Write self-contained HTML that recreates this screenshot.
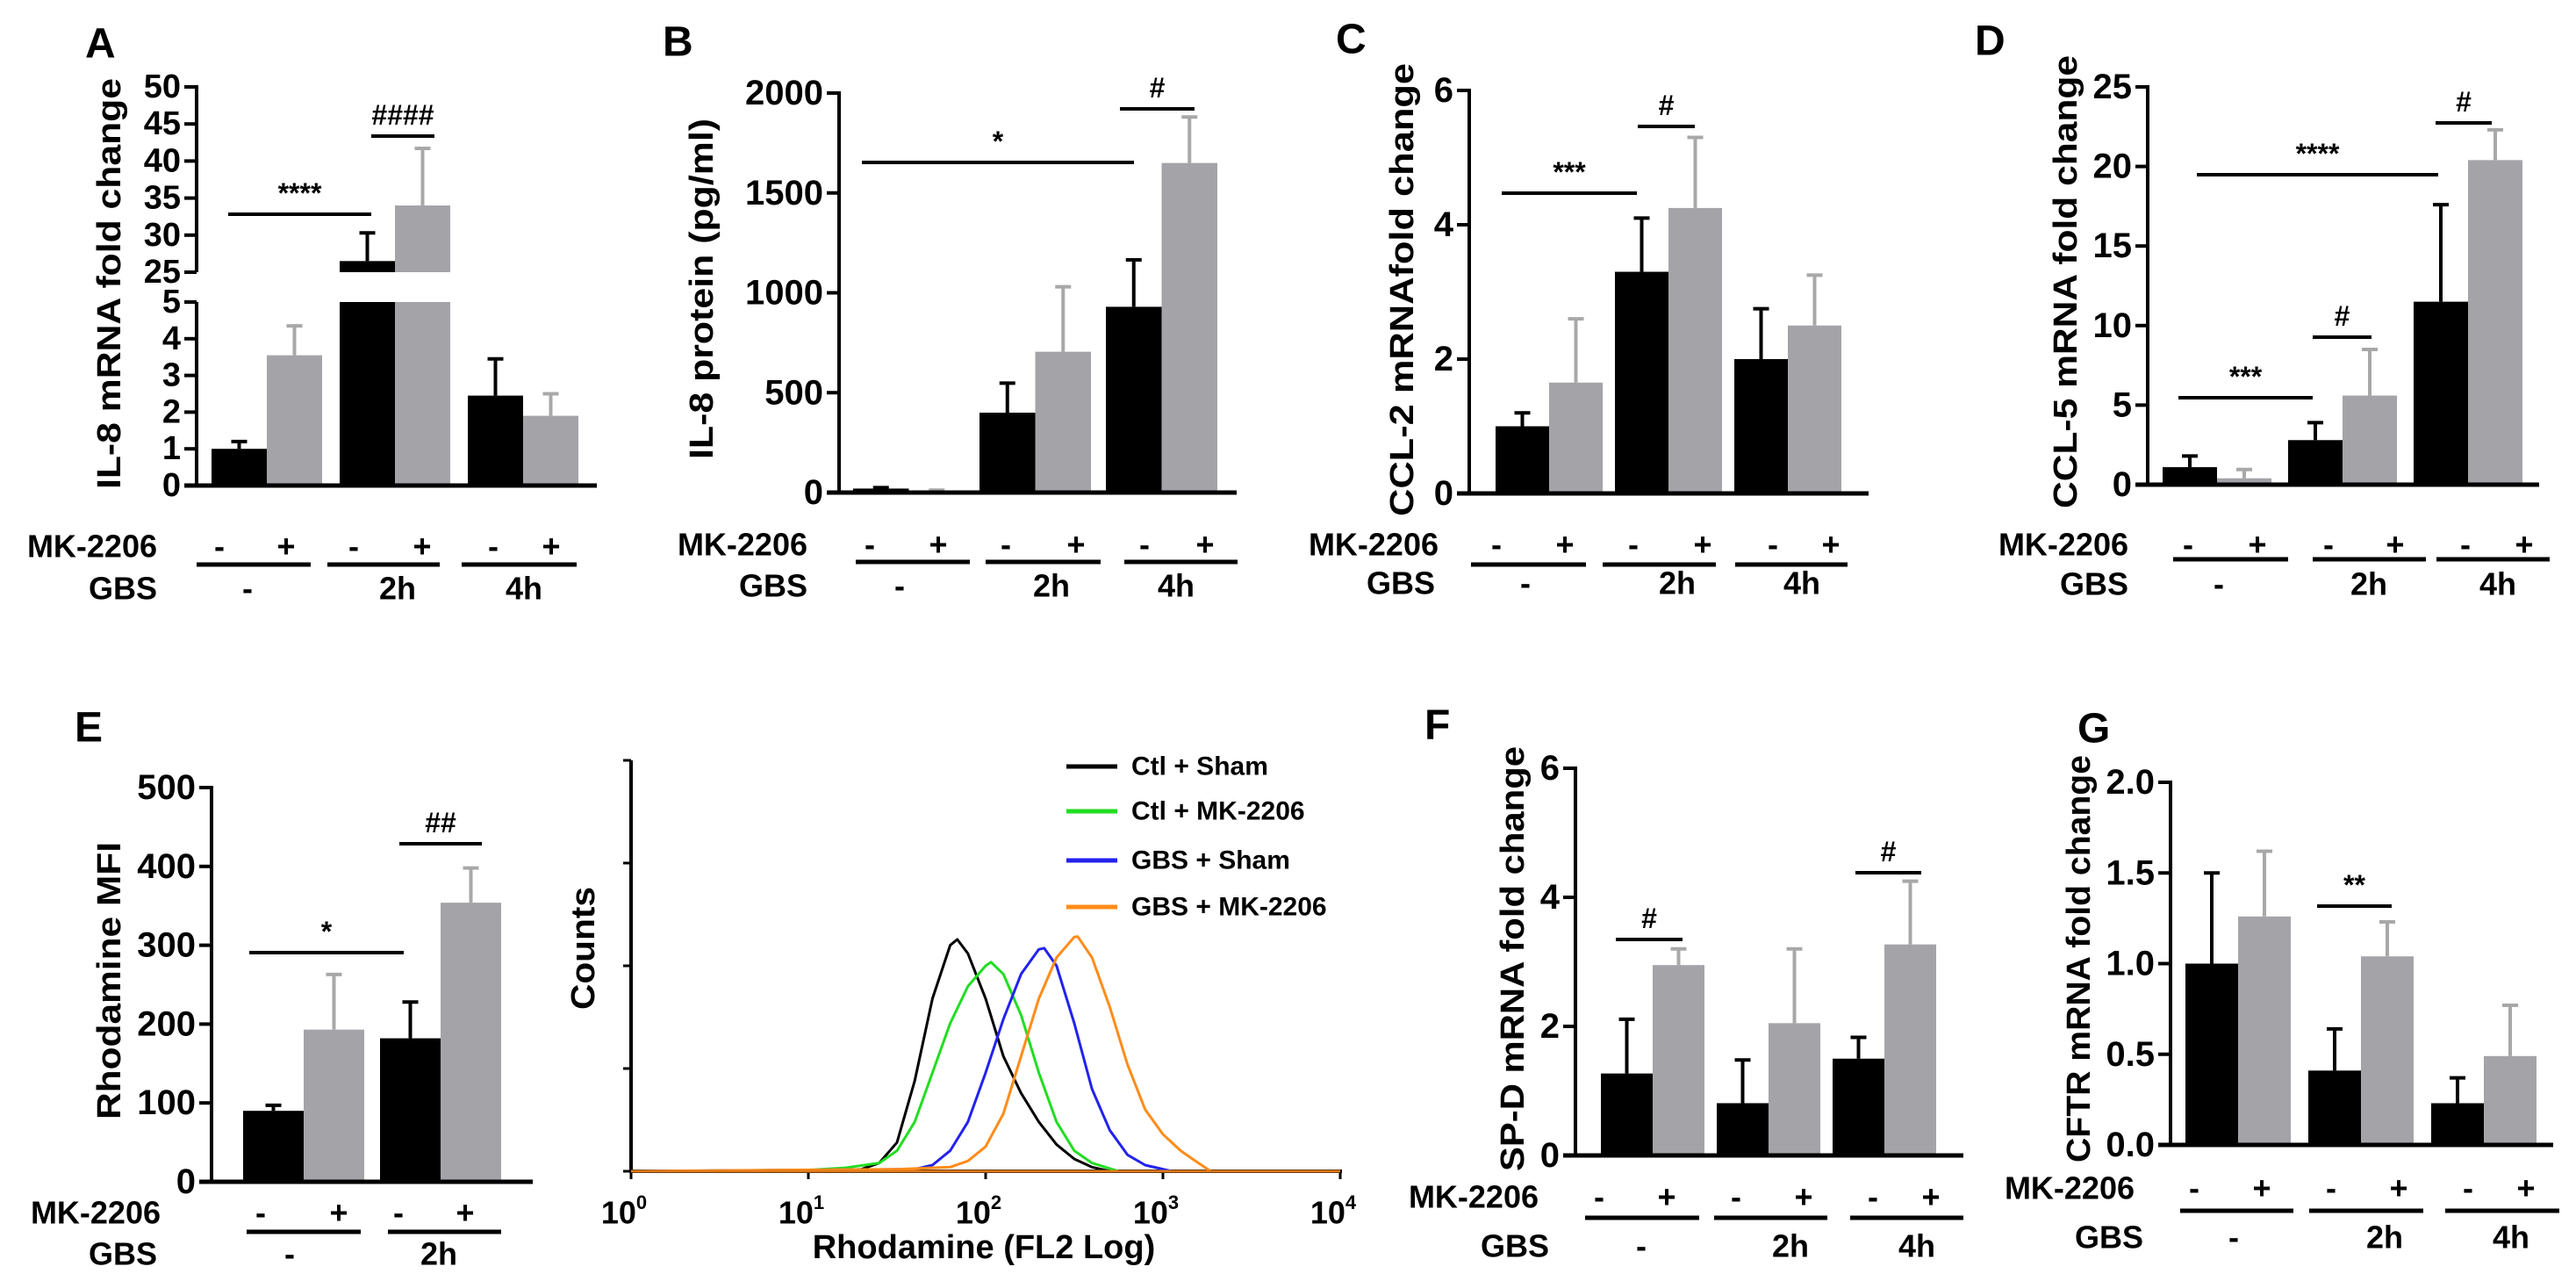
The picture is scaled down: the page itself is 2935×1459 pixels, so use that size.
<!DOCTYPE html>
<html><head><meta charset="utf-8"><style>
html,body{margin:0;padding:0;background:#fff;}
svg{display:block;font-family:"Liberation Sans",Arial,sans-serif;font-weight:bold;}
</style></head><body>
<svg id="fig" width="2935" height="1459" viewBox="0 0 2935 1459" xmlns="http://www.w3.org/2000/svg"></svg>
<script>
// ---- data ----
const groupLabels = ["-", "2h", "4h"];
const mkLabels = ["-", "+"];
const A_vals = [1.0, 3.55, 26.5, 34, 2.45, 1.9];
const A_err = [1.2, 4.35, 30.3, 41.7, 3.45, 2.5];
const A_ticksLow = [0, 1, 2, 3, 4, 5];
const A_ticksHigh = [25, 30, 35, 40, 45, 50];
const B_vals = [20, 8, 400, 705, 930, 1650];
const B_err = [25, 12, 548, 1030, 1165, 1880];
const B_ticks = [0, 500, 1000, 1500, 2000];
const C_vals = [1.0, 1.65, 3.3, 4.25, 2.0, 2.5];
const C_err = [1.2, 2.6, 4.1, 5.3, 2.75, 3.25];
const C_ticks = [0, 2, 4, 6];
const D_vals = [1.1, 0.4, 2.8, 5.6, 11.5, 20.4];
const D_err = [1.8, 0.95, 3.9, 8.5, 17.6, 22.3];
const D_ticks = [0, 5, 10, 15, 20, 25];
const E_vals = [90, 193, 182, 354];
const E_err = [97, 263, 228, 398];
const E_ticks = [0, 100, 200, 300, 400, 500];
const F_vals = [1.27, 2.95, 0.81, 2.05, 1.5, 3.27];
const F_err = [2.11, 3.2, 1.48, 3.2, 1.83, 4.25];
const F_ticks = [0, 2, 4, 6];
const G_vals = [1.0, 1.26, 0.41, 1.04, 0.23, 0.49];
const G_err = [1.5, 1.62, 0.64, 1.23, 0.37, 0.77];
const G_ticks = [0, 0.5, 1.0, 1.5, 2.0];
// histogram (log10 intensity, counts %)
const histNames = ["Ctl + Sham", "Ctl + MK-2206", "GBS + Sham", "GBS + MK-2206"];
const histColors = ["#000000", "#22dd22", "#2222ee", "#ff8c1a"];
const h0_x = [1.0,1.3,1.4,1.5,1.6,1.7,1.8,1.84,1.9,2.0,2.1,2.2,2.3,2.4,2.5,2.6,2.7];
const h0_y = [0,0.5,2,7,22,42,55,56.4,53,42,28,19,12,6.5,3,1,0];
const h1_x = [1.0,1.2,1.4,1.5,1.6,1.7,1.8,1.9,2.0,2.03,2.1,2.2,2.3,2.4,2.5,2.6,2.75];
const h1_y = [0.3,0.8,2,5,12,24,36,45,50,50.9,48,38,24,12,5,2,0];
const h2_x = [1.6,1.7,1.8,1.9,2.0,2.1,2.2,2.3,2.33,2.4,2.5,2.6,2.7,2.8,2.9,3.05];
const h2_y = [0.5,1.5,5,12,24,37,48,54,54.3,50,36,20,10,4,1.5,0];
const h3_x = [1.5,1.8,1.9,2.0,2.1,2.2,2.3,2.4,2.5,2.52,2.6,2.7,2.8,2.9,3.0,3.1,3.2,3.27];
const h3_y = [0.5,1,2.5,6,14,28,42,52,57,57.1,52,40,26,15,9,5,2,0];
const histX = [h0_x, h1_x, h2_x, h3_x];
const histY = [h0_y, h1_y, h2_y, h3_y];
const histDecades = [0, 1, 2, 3, 4];

// ---- helpers ----
const svg = document.getElementById('fig');
const NS = 'http://www.w3.org/2000/svg';
function mk(tag, attrs, parent) {
  const el = document.createElementNS(NS, tag);
  for (const k in attrs) el.setAttribute(k, attrs[k]);
  (parent || svg).appendChild(el);
  return el;
}
function grp(name) {
  const g = document.createElementNS(NS, 'g');
  
  
  svg.appendChild(g);
  return g;
}
function ln(p, x1, y1, x2, y2, col, w, name) {
  const e = mk('line', {x1: x1, y1: y1, x2: x2, y2: y2, stroke: col, 'stroke-width': w}, p);
  
  
  return e;
}
function tx(p, x, y, s, size, anchor, name, extra) {
  const e = mk('text', {x: x, y: y, 'font-size': size, 'text-anchor': anchor || 'middle', 'dominant-baseline': 'central', fill: '#000'}, p);
  if (extra) for (const k in extra) e.setAttribute(k, extra[k]);
  e.textContent = s;
  
  
  return e;
}
function vlabel(p, x, y, s, size, len, name, fam) {
  const e = mk('text', {x: 0, y: 0, 'font-size': size, 'text-anchor': 'middle', 'dominant-baseline': 'central', transform: 'translate(' + x + ',' + y + ') rotate(-90)', textLength: len, lengthAdjust: 'spacingAndGlyphs'}, p);
  if (fam) e.setAttribute('font-family', fam);
  e.textContent = s;
  
  
}
const GRAY = '#a4a4a8', EGRAY = '#a8a8a8';

function barPanel(cfg) {
  const p = grp(cfg.name);
  cfg.vals.forEach((v, i) => {
    const g = Math.floor(i / 2), k = i % 2;
    const x = cfg.first + g * cfg.gstep + k * cfg.bw;
    const col = k === 0 ? '#000' : GRAY;
    const ecol = k === 0 ? '#000' : EGRAY;
    const yv = cfg.y(v), ye = cfg.y(cfg.err[i]);
    const cx = x + cfg.bw / 2;
    ln(p, cx, yv, cx, ye, ecol, 4, 'error-bar');
    ln(p, cx - 9, ye, cx + 9, ye, ecol, 4, 'error-cap');
    if (cfg.breakBar && v > cfg.breakLow) {
      const r1 = mk('rect', {x: x, y: cfg.y(cfg.breakLow), width: cfg.bw, height: cfg.y0 - cfg.y(cfg.breakLow), fill: col}, p);
      
      
      const r2 = mk('rect', {x: x, y: yv, width: cfg.bw, height: cfg.y(cfg.breakHigh) - yv, fill: col}, p);
      
      
    } else {
      const r = mk('rect', {x: x, y: yv, width: cfg.bw, height: Math.max(cfg.y0 - yv, 0), fill: col}, p);
      
      
    }
  });
  cfg.axisSegs.forEach(s => ln(p, cfg.ax, s[0], cfg.ax, s[1], '#000', 4, 'y-axis'));
  ln(p, cfg.ax - 14, cfg.y0, cfg.xend, cfg.y0, '#000', 5, 'x-axis');
  cfg.ticks.forEach((t, i) => {
    const yy = cfg.y(t);
    ln(p, cfg.ax - 14, yy, cfg.ax, yy, '#000', 4, 'y-tick');
    tx(p, cfg.ax - 18, yy, cfg.tickFmt ? cfg.tickFmt(t) : String(t), cfg.tsize || 40, 'end', 'y-tick-label', cfg.fam ? {'font-family': cfg.fam} : null);
  });
  const f = cfg.fam ? {'font-family': cfg.fam} : null;
  tx(p, cfg.lblEnd, cfg.mkY, 'MK-2206', 36, 'end', 'mk2206-row-label', f);
  tx(p, cfg.gbsEnd, cfg.gbsY, 'GBS', 36, 'end', 'gbs-row-label', f);
  const ng = cfg.vals.length / 2;
  for (let g = 0; g < ng; g++) {
    tx(p, cfg.minus[g], cfg.mkY, mkLabels[0], 36, 'middle', 'mk2206-minus', f);
    tx(p, cfg.plus[g], cfg.mkY, mkLabels[1], 36, 'middle', 'mk2206-plus', f);
    ln(p, cfg.lines[g][0], cfg.lineY, cfg.lines[g][1], cfg.lineY, '#000', 5, 'group-underline');
    tx(p, cfg.gbsX[g], cfg.gbsY, groupLabels[g], 36, 'middle', 'gbs-group-label', f);
  }
  tx(p, cfg.letter[0], cfg.letter[1], cfg.letter[2], 48, 'start', 'panel-letter', f);
  vlabel(p, cfg.yl[0], cfg.yl[1], cfg.yl[2], 38, cfg.yl[3], 'y-axis-title', cfg.fam);
  (cfg.sig || []).forEach(s => {
    ln(p, s[0], s[2], s[1], s[2], '#000', 4, 'significance-line');
    tx(p, (s[0] + s[1]) / 2, s[2] - 24, s[3], 32, 'middle', 'significance-mark', f);
  });
}
function linY(v0, p0, v1, p1) { return v => p0 + (v - v0) * (p1 - p0) / (v1 - v0); }

const aLow = linY(0, 553, 5, 344), aHigh = linY(25, 310, 50, 99);
barPanel({
  name: 'panel-a', vals: A_vals, err: A_err, first: 241, bw: 63, gstep: 146,
  y: v => v <= 5 ? aLow(v) : aHigh(v), y0: 553, breakBar: true, breakLow: 5, breakHigh: 25,
  ax: 224, axisSegs: [[97, 310], [344, 555]], xend: 680,
  ticks: A_ticksLow.concat(A_ticksHigh), tsize: 38,
  lblEnd: 179, gbsEnd: 179, mkY: 622, gbsY: 670, lineY: 643,
  minus: [250, 403, 562], plus: [326, 481, 628], gbsX: [282, 453, 597],
  lines: [[224, 354], [373, 501], [526, 657]],
  letter: [97, 50, 'A'], yl: [125, 323, 'IL-8 mRNA fold change', 468],
  sig: [[260, 423, 244, '****'], [423, 495, 155, '####']]
});
barPanel({
  name: 'panel-b', vals: B_vals, err: B_err, first: 972, bw: 63.5, gstep: 144,
  y: linY(0, 561, 2000, 106), y0: 561, ax: 956, axisSegs: [[104, 563]], xend: 1409,
  ticks: B_ticks, lblEnd: 920, gbsEnd: 920, mkY: 620, gbsY: 667, lineY: 640,
  minus: [991, 1146, 1304], plus: [1069, 1226, 1373], gbsX: [1025, 1198, 1340],
  lines: [[975, 1105], [1123, 1254], [1281, 1410]],
  letter: [755, 48, 'B'], yl: [800, 329, 'IL-8 protein (pg/ml)', 388],
  sig: [[982, 1292, 185, '*'], [1276, 1361, 124, '#']]
});
barPanel({
  name: 'panel-c', vals: C_vals, err: C_err, first: 1704, bw: 61, gstep: 136,
  y: linY(0, 562, 6, 103), y0: 562, ax: 1674, axisSegs: [[101, 564]], xend: 2129,
  ticks: C_ticks, lblEnd: 1639, gbsEnd: 1635, mkY: 620, gbsY: 664, lineY: 643,
  minus: [1705, 1861, 2020], plus: [1783, 1940, 2086], gbsX: [1738, 1911, 2053],
  lines: [[1676, 1807], [1826, 1955], [1977, 2105]],
  letter: [1522, 45, 'C'], yl: [1598, 330, 'CCL-2 mRNAfold change', 516],
  sig: [[1711, 1865, 220, '***'], [1866, 1931, 144, '#']]
});
barPanel({
  name: 'panel-d', vals: D_vals, err: D_err, first: 2464, bw: 62, gstep: 143,
  y: linY(0, 552, 25, 99), y0: 552, ax: 2447, axisSegs: [[97, 554]], xend: 2893,
  ticks: D_ticks, lblEnd: 2425, gbsEnd: 2425, mkY: 620, gbsY: 665, lineY: 637,
  minus: [2493, 2653, 2809], plus: [2572, 2729, 2876], gbsX: [2528, 2699, 2846],
  lines: [[2476, 2607], [2635, 2764], [2776, 2905]],
  letter: [2250, 47, 'D'], yl: [2354, 321, 'CCL-5 mRNA fold change', 516],
  sig: [[2503, 2778, 199, '****'], [2482, 2635, 453, '***'], [2635, 2702, 384, '#'], [2775, 2839, 140, '#']]
});
const NARROW = '"Liberation Sans Narrow","Liberation Sans",Arial,sans-serif';
barPanel({
  name: 'panel-e', vals: E_vals, err: E_err, first: 277, bw: 69, gstep: 156,
  y: linY(0, 1346, 500, 897), y0: 1346, ax: 241, axisSegs: [[895, 1348]], xend: 607,
  ticks: E_ticks, fam: NARROW, lblEnd: 183, gbsEnd: 179, mkY: 1381, gbsY: 1428, lineY: 1403,
  minus: [297, 454], plus: [386, 530], gbsX: [330, 500],
  lines: [[281, 411], [442, 571]],
  letter: [85, 829, 'E'], yl: [125, 1117, 'Rhodamine MFI', 316],
  sig: [[284, 460, 1085, '*'], [455, 549, 961, '##']]
});
barPanel({
  name: 'panel-f', vals: F_vals, err: F_err, first: 1824, bw: 59, gstep: 132,
  y: linY(0, 1316, 6, 875), y0: 1316, ax: 1795, axisSegs: [[873, 1318]], xend: 2237,
  ticks: F_ticks, lblEnd: 1753, gbsEnd: 1765, mkY: 1363, gbsY: 1419, lineY: 1387,
  minus: [1822, 1978, 2134], plus: [1899, 2055, 2200], gbsX: [1870, 2040, 2184],
  lines: [[1806, 1936], [1953, 2082], [2108, 2237]],
  letter: [1623, 826, 'F'], yl: [1724, 1092, 'SP-D mRNA fold change', 484],
  sig: [[1841, 1917, 1070, '#'], [2114, 2189, 994, '#']]
});
barPanel({
  name: 'panel-g', vals: G_vals, err: G_err, first: 2490, bw: 60, gstep: 140,
  y: linY(0, 1304, 2, 891), y0: 1304, ax: 2473, axisSegs: [[889, 1306]], xend: 2909,
  ticks: G_ticks, tickFmt: t => t.toFixed(1), lblEnd: 2432, gbsEnd: 2442, mkY: 1353, gbsY: 1409, lineY: 1379,
  minus: [2500, 2656, 2812], plus: [2577, 2733, 2878], gbsX: [2545, 2717, 2861],
  lines: [[2484, 2613], [2631, 2761], [2786, 2916]],
  letter: [2367, 830, 'G'], yl: [2369, 1092, 'CFTR mRNA fold change', 464],
  sig: [[2640, 2725, 1032, '**']]
});

(function () {
  const p = grp('histogram-panel');
  const X0 = 719, DEC = 202, Y0 = 1334, YT = 866;
  const xs = l => X0 + l * DEC;
  const ys = c => Y0 - c / 100 * (Y0 - YT);
  ln(p, X0, YT, X0, Y0 + 2, '#000', 4, 'hist-y-axis');
  [0, 25, 50, 75, 100].forEach(c => ln(p, X0 - 9, ys(c), X0, ys(c), '#000', 3, 'hist-y-tick'));
  ln(p, X0, Y0, xs(4) + 2, Y0, '#000', 4, 'hist-x-axis');
  histDecades.forEach(d => {
    ln(p, xs(d), Y0, xs(d), Y0 + 9, '#000', 3, 'hist-x-tick');
    const t = tx(p, xs(d) - 8, 1381, '10', 36, 'middle', 'hist-x-tick-label', {'font-family': NARROW});
    const sp = document.createElementNS(NS, 'tspan');
    sp.setAttribute('dy', '-12');
    sp.setAttribute('font-size', '22');
    sp.textContent = String(d);
    t.appendChild(sp);
  });
  histX.forEach((arr, s) => {
    let d = 'M' + xs(0) + ' ' + Y0 + ' L' + xs(arr[0]) + ' ' + ys(histY[s][0]);
    arr.forEach((l, i) => { d += ' L' + xs(l).toFixed(1) + ' ' + ys(histY[s][i]).toFixed(1); });
    const e = mk('path', {d: d, fill: 'none', stroke: histColors[s], 'stroke-width': 3, 'stroke-linejoin': 'round'}, p);
    
    
  });
  ln(p, X0, Y0, xs(4), Y0, '#e07a1a', 3, 'hist-baseline');
  tx(p, 1121, 1421, 'Rhodamine (FL2 Log)', 38, 'middle', 'hist-x-axis-title', {'font-family': NARROW});
  vlabel(p, 665, 1080, 'Counts', 38, 140, 'hist-y-axis-title', NARROW);
  const ly = [873, 924, 980, 1033];
  histNames.forEach((n, i) => {
    ln(p, 1215, ly[i], 1273, ly[i], histColors[i], 5, 'legend-swatch');
    tx(p, 1289, ly[i], n, 30, 'start', 'legend-entry', {'font-family': NARROW});
  });
})();
</script>
</body></html>
